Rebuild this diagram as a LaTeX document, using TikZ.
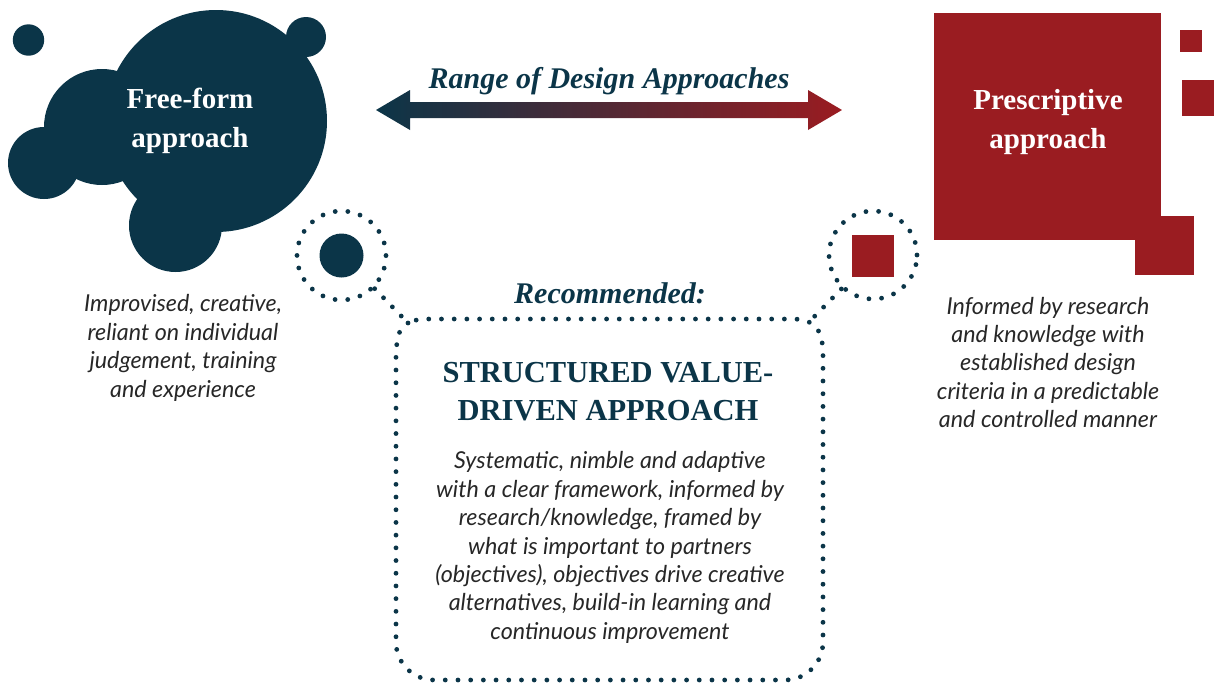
\documentclass[tikz,border=0pt]{standalone}
\usepackage{fontspec}
\setmainfont{Liberation Serif}
\newfontfamily\lato{Lato}
\definecolor{navy}{HTML}{0B3548}
\definecolor{wine}{HTML}{9A1C21}
\definecolor{txt}{HTML}{272727}
\tikzset{
  dotline/.style={draw=navy, line width=4.8pt, line cap=round, dash pattern=on 0pt off 12.7pt},
  blob/.style={fill=navy},
  sq/.style={fill=wine},
  title/.style={text=white, font=\bfseries\fontsize{29}{39}\selectfont, align=center, inner sep=0pt},
  caption/.style={text=txt, font=\lato\itshape\fontsize{23.3}{28.4}\selectfont, align=center, inner sep=0pt},
  heading/.style={text=navy, font=\bfseries\fontsize{30.5}{38}\selectfont, align=center, inner sep=0pt},
  subhead/.style={text=navy, font=\bfseries\itshape\fontsize{30}{34}\selectfont, align=center, inner sep=0pt},
}
\begin{document}
\begin{tikzpicture}[x=1pt,y=-1pt]
\useasboundingbox (0,0) rectangle (1214,683);

% left blob
\fill[blob] (28.5,40) circle[radius=15.7pt];
\fill[blob] (306,37) circle[radius=20pt];
\fill[blob] (44,163) circle[radius=36pt];
\fill[blob] (102,127) circle[radius=58pt];
\fill[blob] (216,121) circle[radius=111pt];
\fill[blob] (175.5,225.5) circle[radius=46.5pt];
\node[title] (free) at (190,121) {Free-form\\approach};

% right squares
\fill[sq] (934,13) rectangle (1161,240);
\fill[sq] (1180,30) rectangle (1202,52);
\fill[sq] (1182,80) rectangle (1214,116);
\fill[sq] (1135,216) rectangle (1194,275);
\node[title] (presc) at (1048,122) {Prescriptive\\approach};

% gradient arrow
\shade[left color=navy, right color=wine]
  (376,110) -- (410,90) -- (410,102) -- (808,102) -- (808,90) -- (842,110)
  -- (808,130) -- (808,118) -- (410,118) -- (410,130) -- cycle;
\node[subhead] (range) at (609,81) {Range of Design Approaches};

% rings
\node[circle, minimum size=89pt, inner sep=0pt, dotline] (lring) at (341.5,255.5) {};
\fill[blob] (lring.center) circle[radius=22pt];
\node[circle, minimum size=88pt, inner sep=0pt, dotline] (rring) at (873,255) {};
\fill[sq] (852,235) rectangle (894,277);

% dotted box
\coordinate (PL) at (408,323);
\coordinate (PR) at (809,322);
\draw[dotline] (lring.-45) -- (PL);
\draw[dotline] (rring.-133) -- (PR);
\draw[dotline] (PL) .. controls (398,332) .. (396,352)
  [rounded corners=38pt] -- (396,680) -- (823,680) [sharp corners] -- (823,350)
  .. controls (821,332) .. (PR) .. controls (800,319) .. (788,319) -- (432,319)
  .. controls (418,319) .. (PL);

\node[subhead] (rec) at (610,293) {Recommended:};
\node[heading] (head) at (608,392) {STRUCTURED VALUE-\\DRIVEN APPROACH};

\node[caption] (lcap) at (183,348) {Improvised, creative,\\reliant on individual\\judgement, training\\and experience};
\node[caption] (rcap) at (1048,362.5) {Informed by research\\and knowledge with\\established design\\criteria in a predictable\\and controlled manner};
\node[caption] (body) at (610,547.5) {Systematic, nimble and adaptive\\with a clear framework, informed by\\research/knowledge, framed by\\what is important to partners\\(objectives), objectives drive creative\\alternatives, build-in learning and\\continuous improvement};
\end{tikzpicture}
\end{document}
